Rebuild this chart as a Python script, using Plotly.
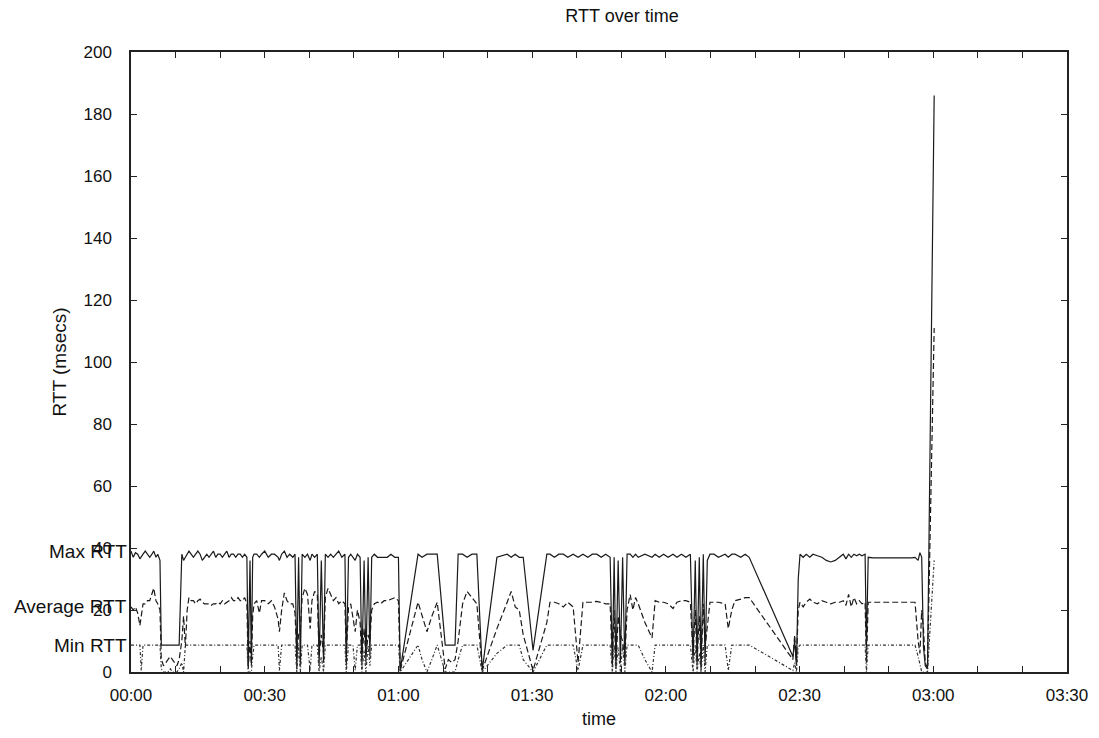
import pandas as pd
import plotly.graph_objects as go

# ---------------- data (time in minutes since 00:00) ----------------
minutes = [
    0.0, 0.5, 1.0, 1.5, 2.0, 2.3, 2.7, 3.2, 3.7, 4.2, 4.7, 5.1, 5.6, 6.0, 6.5,
    6.8, 7.3, 7.8, 8.3, 8.8, 9.3, 9.8, 10.3, 10.8,
    11.4, 11.8, 12.2, 12.6, 13.0, 13.5, 14.0, 14.5, 15.0, 15.5, 16.0, 16.5, 17.0, 17.5, 18.0, 18.5,
    19.0, 19.5, 20.0, 20.5, 21.0, 21.5, 22.0, 22.5, 23.0, 23.5, 24.0, 24.5, 25.0, 25.5, 26.0,
    26.3, 26.7, 27.0, 27.3, 27.6, 28.2, 28.8, 29.3, 30.0, 30.8, 31.5, 32.2, 33.0, 33.3, 33.8, 34.4,
    35.0, 35.6, 36.3, 36.8,
    37.2, 37.6, 38.0, 38.4, 39.0, 39.6, 40.2, 40.6, 41.2, 41.8, 42.2, 42.7, 43.2, 43.6, 44.2, 44.8,
    45.4, 46.0, 46.6, 47.3, 48.0, 48.3, 48.8, 49.3, 49.8, 50.3, 50.8, 51.4, 51.8, 52.3, 52.7, 53.2,
    53.6, 54.0,
    54.6, 55.3, 56.0, 56.8, 57.5, 58.3, 59.2, 60.0, 60.4,
    64.4, 65.3, 66.4, 67.5, 68.7, 70.5, 71.2, 72.0, 72.7, 73.4, 74.4, 75.4, 76.5, 77.6, 78.8, 82.1,
    84.4, 85.3, 86.2, 87.1, 88.0, 90.2,
    93.3, 94.0, 95.0, 96.0, 97.0, 98.0, 99.2, 100.3, 101.4, 102.5, 103.5, 104.5, 105.5, 106.5, 107.5,
    108.0, 108.4, 108.8, 109.3, 109.8, 110.3, 110.8, 111.3, 112.0, 112.6, 113.2, 113.8, 115.3, 116.9,
    117.6, 118.5, 119.5, 120.5, 121.6, 122.5, 123.5, 124.5, 125.5,
    126.1, 126.6, 127.0, 127.5, 127.9, 128.4, 128.8, 129.3, 129.9, 130.8, 131.8, 133.3, 134.0, 134.8,
    135.5, 136.8, 137.8, 138.7,
    148.5, 148.9, 149.3, 149.7, 150.1, 150.8, 151.5, 152.3, 153.0, 154.0, 155.0, 156.0, 157.0, 158.0,
    159.0, 159.8, 160.4, 161.0, 161.6, 162.2, 162.8, 163.4, 164.0, 164.7,
    165.0, 165.4, 166.5, 168.0, 170.0, 172.0, 174.0, 175.2, 175.9, 176.6, 177.0, 177.4, 177.8, 178.2,
    178.7, 180.2,
]

max_rtt = [
    39, 37, 38.5, 38, 36.5, 37, 38, 39, 38, 37, 38, 39, 37, 38, 36,
    8.7, 8.7, 8.7, 8.7, 8.7, 8.7, 8.7, 8.7, 8.7,
    38, 36, 37, 38, 39, 38, 37, 38, 39, 38, 36, 37, 38, 37, 38, 39,
    37, 38, 38, 37, 38, 39, 37, 38, 38, 37, 38, 38, 37, 38, 37,
    2, 36, 3, 37, 38, 38, 37, 38, 39, 37, 38, 38, 37, 36, 38, 39,
    37, 38, 37, 38,
    1, 37, 2, 38, 37, 38, 36, 38, 37, 38, 2, 36, 3, 38, 37, 38,
    37, 38, 39, 37, 38, 2, 37, 38, 37, 36, 38, 37, 2, 36, 3, 37,
    5, 37,
    38, 37, 37, 37, 37, 38, 37, 37, 0.5,
    38, 37, 38, 38, 38, 8.7, 8.7, 8.7, 8.7, 38, 38, 37, 38, 38, 0.5, 37,
    38, 37, 38, 37, 37, 7,
    38, 38, 37, 38, 38, 37, 38, 37, 38, 37, 38, 38, 37, 38, 37,
    2, 37, 1, 36, 3, 37, 2, 38, 38, 37, 38, 37, 38, 37,
    38, 37, 38, 37, 38, 37, 38, 37, 38,
    3, 36, 2, 37, 1, 38, 3, 36, 38, 38, 37, 38, 37, 38,
    38, 37, 38, 37,
    5, 10, 2, 30, 38, 37, 38, 37, 38, 37.5, 37, 36, 35.5, 36,
    37, 38, 36.5, 38, 37, 38, 37.5, 38, 37.5, 38,
    8, 37, 36.8, 36.8, 36.8, 36.8, 36.7, 36.8, 37, 36, 38.5, 37, 8, 2,
    1, 186,
]

avg_rtt = [
    21, 20, 21, 19, 15, 18, 22, 22, 23, 23, 25, 27, 23, 22, 20,
    4, 2, 3, 4, 5, 4, 3, 2, 4,
    10, 18, 8, 20, 24, 23, 23, 22, 23, 23.5, 22.5, 22, 22, 22, 21.5, 22,
    22, 22.5, 22, 23, 22, 22.5, 23, 24, 23, 23, 24, 23, 23, 24, 22,
    1, 10, 2, 18, 22, 23, 19, 23, 23, 22, 23, 21, 17, 13, 20, 25.5,
    23, 22, 22, 19,
    5, 12, 14, 24, 27, 25, 14, 23, 26, 25, 5, 12, 6, 24, 27, 25,
    23, 24, 22, 23, 22, 5, 21, 22, 17, 13, 20, 16, 4, 14, 5, 12,
    10, 20,
    22, 22.5, 22, 23, 23, 23.5, 24, 23, 0.5,
    22.5, 18, 13, 18, 22.5, 1, 4, 3, 4, 10, 22, 26, 24, 22, 0.5, 14,
    22.5, 26, 21, 20, 12, 0.5,
    16, 22.5, 22.5, 22, 21, 22.5, 21, 3, 22.5, 22.5, 22.5, 22.8, 22.5, 22, 22,
    3, 20, 2, 18, 12, 10, 4, 20, 25, 20, 24, 22, 16, 11,
    23, 22.5, 22.5, 22, 20.5, 22.5, 23, 23, 22.5,
    5, 20, 3, 18, 2, 22, 8, 15, 22.5, 22.5, 22.5, 22, 14, 20,
    23, 23.5, 24, 24,
    4, 12, 3, 20, 22.5, 21, 22.5, 23.5, 22.5, 22, 23, 22.5, 22, 22.5,
    22.5, 23, 21.5, 25, 21, 24, 22, 23, 22, 22.5,
    3, 22.5, 22.5, 22.6, 22.6, 22.6, 22.6, 22.6, 22.5, 10, 6, 20, 14, 3,
    1, 111,
]

min_rtt = [
    8.7, 8.7, 8.7, 8.7, 8.7, 0.5, 8.7, 8.7, 8.7, 8.7, 8.7, 8.7, 8.7, 8.7, 8.7,
    1, 0, 0, 0, 1, 0, 0, 0, 1,
    3, 0, 8.7, 8.7, 8.7, 8.7, 8.7, 8.7, 8.7, 8.7, 8.7, 8.7, 8.7, 8.7, 8.7, 8.7,
    8.7, 8.7, 8.7, 8.7, 8.7, 8.7, 8.7, 8.7, 8.7, 8.7, 8.7, 8.7, 8.7, 8.7, 8.7,
    0, 0, 0, 5, 8.7, 8.7, 8.7, 8.7, 8.7, 8.7, 8.7, 8.7, 8.7, 0.5, 8.7, 8.7,
    8.7, 8.7, 8.7, 8.7,
    0, 8.7, 0, 8.7, 8.7, 8.7, 0.5, 8.7, 8.7, 8.7, 0, 5, 0, 8.7, 8.7, 8.7,
    8.7, 8.7, 8.7, 8.7, 8.7, 0, 8.7, 8.7, 8.7, 0.5, 8.7, 8.7, 0, 7, 0, 8.7,
    2, 8.7,
    8.7, 8.7, 8.7, 8.7, 8.7, 8.7, 8.7, 8.7, 0,
    8.7, 4, 0, 4, 8.7, 0, 0, 0, 0, 4, 8.7, 8.7, 8.7, 8.7, 0, 6,
    8.7, 8.7, 8.7, 8.7, 4, 0,
    8.7, 8.7, 8.7, 8.7, 8.7, 8.7, 8.7, 0.5, 8.7, 8.7, 8.7, 8.7, 8.7, 8.7, 8.7,
    0, 8.7, 0, 8, 0, 8.7, 0, 8.7, 8.7, 8.7, 8.7, 8.7, 4, 0,
    8.7, 8.7, 8.7, 8.7, 8.7, 8.7, 8.7, 8.7, 8.7,
    0, 8.7, 0, 6, 0, 8.7, 0, 8.7, 8.7, 8.7, 8.7, 8.7, 0.5, 8.7,
    8.7, 8.7, 8.7, 8.7,
    0.5, 3, 0, 8, 8.7, 8.7, 8.7, 8.7, 8.7, 8.7, 8.7, 8.7, 8.7, 8.7,
    8.7, 8.7, 8.7, 8.7, 8.7, 8.7, 8.7, 8.7, 8.7, 8.7,
    0, 8.7, 8.7, 8.7, 8.7, 8.7, 8.7, 8.7, 8.7, 5, 2, 0, 0, 0,
    0, 36,
]

series_names = ["Max RTT", "Average RTT", "Min RTT"]
x_tick_labels = ["00:00", "00:30", "01:00", "01:30", "02:00", "02:30", "03:00", "03:30"]
y_tick_values = [0, 20, 40, 60, 80, 100, 120, 140, 160, 180, 200]

assert len(minutes) == len(max_rtt) == len(avg_rtt) == len(min_rtt)

base = pd.Timestamp("2000-01-01 00:00:00")
times = [base + pd.Timedelta(minutes=m) for m in minutes]
tick_times = [base + pd.Timedelta(minutes=30 * i) for i in range(len(x_tick_labels))]

FONT = "Liberation Sans, Arial, sans-serif"
INK = "#111111"

fig = go.Figure()
styles = [
    dict(color="#1a1a1a", width=1.2, dash="solid"),
    dict(color="#1a1a1a", width=1.2, dash="6px,3px"),
    dict(color="#333333", width=1.2, dash="3px,2px,1px,2px"),
]
for name, vals, st in zip(series_names, [max_rtt, avg_rtt, min_rtt], styles):
    fig.add_trace(go.Scatter(x=times, y=vals, mode="lines", name=name,
                             line=st, showlegend=False))

# series labels placed at the left of each line's first value
for name, vals in zip(series_names, [max_rtt, avg_rtt, min_rtt]):
    fig.add_annotation(x=0, xref="paper", y=vals[0], yref="y", text=name,
                       showarrow=False, xanchor="right", yanchor="middle",
                       xshift=-2, font=dict(family=FONT, size=19, color=INK))

fig.update_layout(
    width=1099, height=738, autosize=False,
    margin=dict(l=131, r=32, t=52, b=66),
    paper_bgcolor="white", plot_bgcolor="white",
    font=dict(family=FONT, size=17, color=INK),
    title=dict(text="RTT over time", x=0.566, xanchor="center",
               y=1 - 16 / 738, yanchor="middle", font=dict(size=18)),
)
fig.update_xaxes(
    type="date",
    range=[base, base + pd.Timedelta(minutes=210)],
    tickmode="array", tickvals=tick_times, ticktext=x_tick_labels,
    ticks="inside", ticklen=6, tickcolor="#222", tickwidth=1.2,
    minor=dict(dtick=600000, ticks="inside", ticklen=6, tickcolor="#222", tickwidth=1.2),
    showline=True, linecolor="#222", linewidth=1.5, mirror="ticks",
    showgrid=False, zeroline=False,
    ticklabelstandoff=7,
    tickfont=dict(size=17),
    title=dict(text="time", standoff=8, font=dict(size=18)),
)
fig.update_yaxes(
    range=[0, 200],
    tickmode="array", tickvals=y_tick_values,
    ticks="inside", ticklen=6, tickcolor="#222", tickwidth=1.2,
    showline=True, linecolor="#222", linewidth=1.5, mirror="ticks",
    showgrid=False, zeroline=False,
    ticklabelstandoff=14,
    tickfont=dict(size=17),
    title=dict(text="RTT (msecs)", standoff=12, font=dict(size=19)),
)

fig.write_html("out.html")
